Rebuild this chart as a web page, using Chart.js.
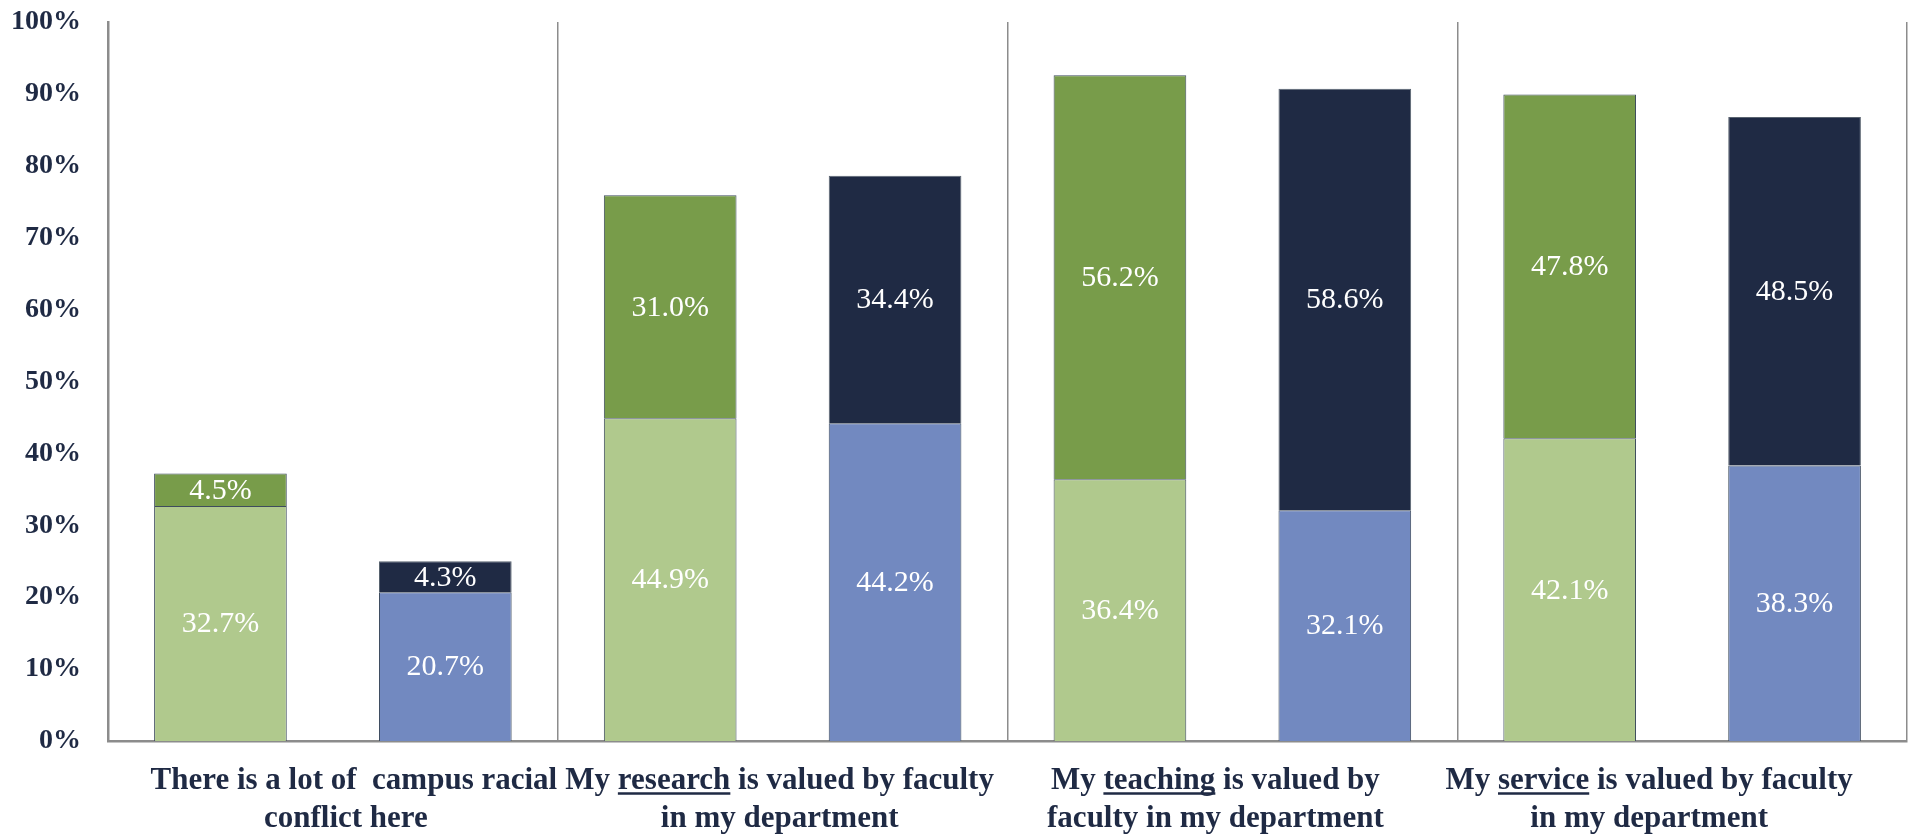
<!DOCTYPE html>
<html>
<head>
<meta charset="utf-8">
<script src="https://cdn.jsdelivr.net/npm/chart.js@4"></script>
<style>
html,body{margin:0;padding:0;background:#fff;}
#c{display:block;}
</style>
</head>
<body>
<canvas id="c" width="1913" height="836"></canvas>
<script>
const categories = [
  ["There is a lot of  campus racial", "conflict here"],
  ["My research is valued by faculty", "in my department"],
  ["My teaching is valued by", "faculty in my department"],
  ["My service is valued by faculty", "in my department"]
];
const underlinedWords = [null, "research", "teaching", "service"];
const groupALower = [32.7, 44.9, 36.4, 42.1];
const groupAUpper = [4.5, 31.0, 56.2, 47.8];
const groupBLower = [20.7, 44.2, 32.1, 38.3];
const groupBUpper = [4.3, 34.4, 58.6, 48.5];
const yTicks = [0, 10, 20, 30, 40, 50, 60, 70, 80, 90, 100];

const NAVY_TEXT = '#1F2A44';
const SERIF = '"Liberation Serif", "DejaVu Serif", serif';
// horizontal nudge of each category caption line relative to its category centre (as in the source layout)
const captionNudge = [[21, 13], [-3, -3], [-17, -17], [-33, -33]];

const segmentLabels = {
  id: 'segmentLabels',
  afterDatasetsDraw(chart) {
    const ctx = chart.ctx;
    ctx.save();
    ctx.font = '30px ' + SERIF;
    ctx.fillStyle = '#ffffff';
    ctx.textAlign = 'center';
    ctx.textBaseline = 'middle';
    chart.data.datasets.forEach((ds, di) => {
      const meta = chart.getDatasetMeta(di);
      meta.data.forEach((el, i) => {
        const v = ds.data[i];
        const y = (el.y + el.base) / 2;
        ctx.fillText(v.toFixed(1) + '%', el.x, y + 1);
      });
    });
    ctx.restore();
  }
};

const categoryLabels = {
  id: 'categoryLabels',
  afterDraw(chart) {
    const ctx = chart.ctx;
    const xs = chart.scales.x;
    const area = chart.chartArea;
    ctx.save();
    ctx.font = 'bold 31px ' + SERIF;
    ctx.fillStyle = NAVY_TEXT;
    ctx.strokeStyle = NAVY_TEXT;
    ctx.textAlign = 'center';
    ctx.textBaseline = 'alphabetic';
    categories.forEach((lines, i) => {
      lines.forEach((line, j) => {
        const cx = xs.getPixelForValue(i) + captionNudge[i][j];
        const y = area.bottom + 48 + j * 38;
        ctx.fillText(line, cx, y);
        const w = underlinedWords[i];
        if (w && line.indexOf(w) >= 0) {
          const full = ctx.measureText(line).width;
          const start = cx - full / 2 + ctx.measureText(line.slice(0, line.indexOf(w))).width;
          const ww = ctx.measureText(w).width;
          ctx.lineWidth = 2.5;
          ctx.beginPath();
          ctx.moveTo(start, y + 4.5);
          ctx.lineTo(start + ww, y + 4.5);
          ctx.stroke();
        }
      });
    });
    ctx.restore();
  }
};

const borderCol = '#3E4C5E';

new Chart(document.getElementById('c'), {
  type: 'bar',
  data: {
    labels: categories,
    datasets: [
      { data: groupALower, backgroundColor: '#B0C98D', borderColor: borderCol, borderWidth: 1, stack: 'a' },
      { data: groupAUpper, backgroundColor: '#789C4A', borderColor: borderCol, borderWidth: 1, stack: 'a' },
      { data: groupBLower, backgroundColor: '#7289C0', borderColor: borderCol, borderWidth: 1, stack: 'b' },
      { data: groupBUpper, backgroundColor: '#1F2A44', borderColor: '#5a6470', borderWidth: 1, stack: 'b' }
    ]
  },
  options: {
    responsive: false,
    animation: false,
    devicePixelRatio: 1,
    layout: { padding: { top: 0, right: 6, left: 0, bottom: 0 } },
    plugins: { legend: { display: false }, tooltip: { enabled: false } },
    datasets: { bar: { categoryPercentage: 1.0, barPercentage: 0.59 } },
    scales: {
      x: {
        stacked: true,
        grid: { display: true, offset: true, drawTicks: false, color: '#8c8c8c', lineWidth: 1.5 },
        border: { display: true, color: '#8c8c8c', width: 2.5 },
        ticks: { display: false },
        afterFit(s) { s.height = 95; s.paddingLeft = 0; s.paddingRight = 0; }
      },
      y: {
        stacked: true,
        min: 0,
        max: 100,
        afterBuildTicks(s) { s.ticks = yTicks.map(v => ({ value: v })); },
        grid: { display: false, drawTicks: false },
        border: { display: true, color: '#8c8c8c', width: 2.5 },
        ticks: {
          padding: 27,
          color: NAVY_TEXT,
          font: { family: SERIF, size: 28, weight: 'bold' },
          callback: v => v + '%'
        },
        afterFit(s) { s.width = 108; s.paddingTop = 22; s.paddingBottom = 0; }
      }
    }
  },
  plugins: [segmentLabels, categoryLabels]
});
</script>
</body>
</html>
